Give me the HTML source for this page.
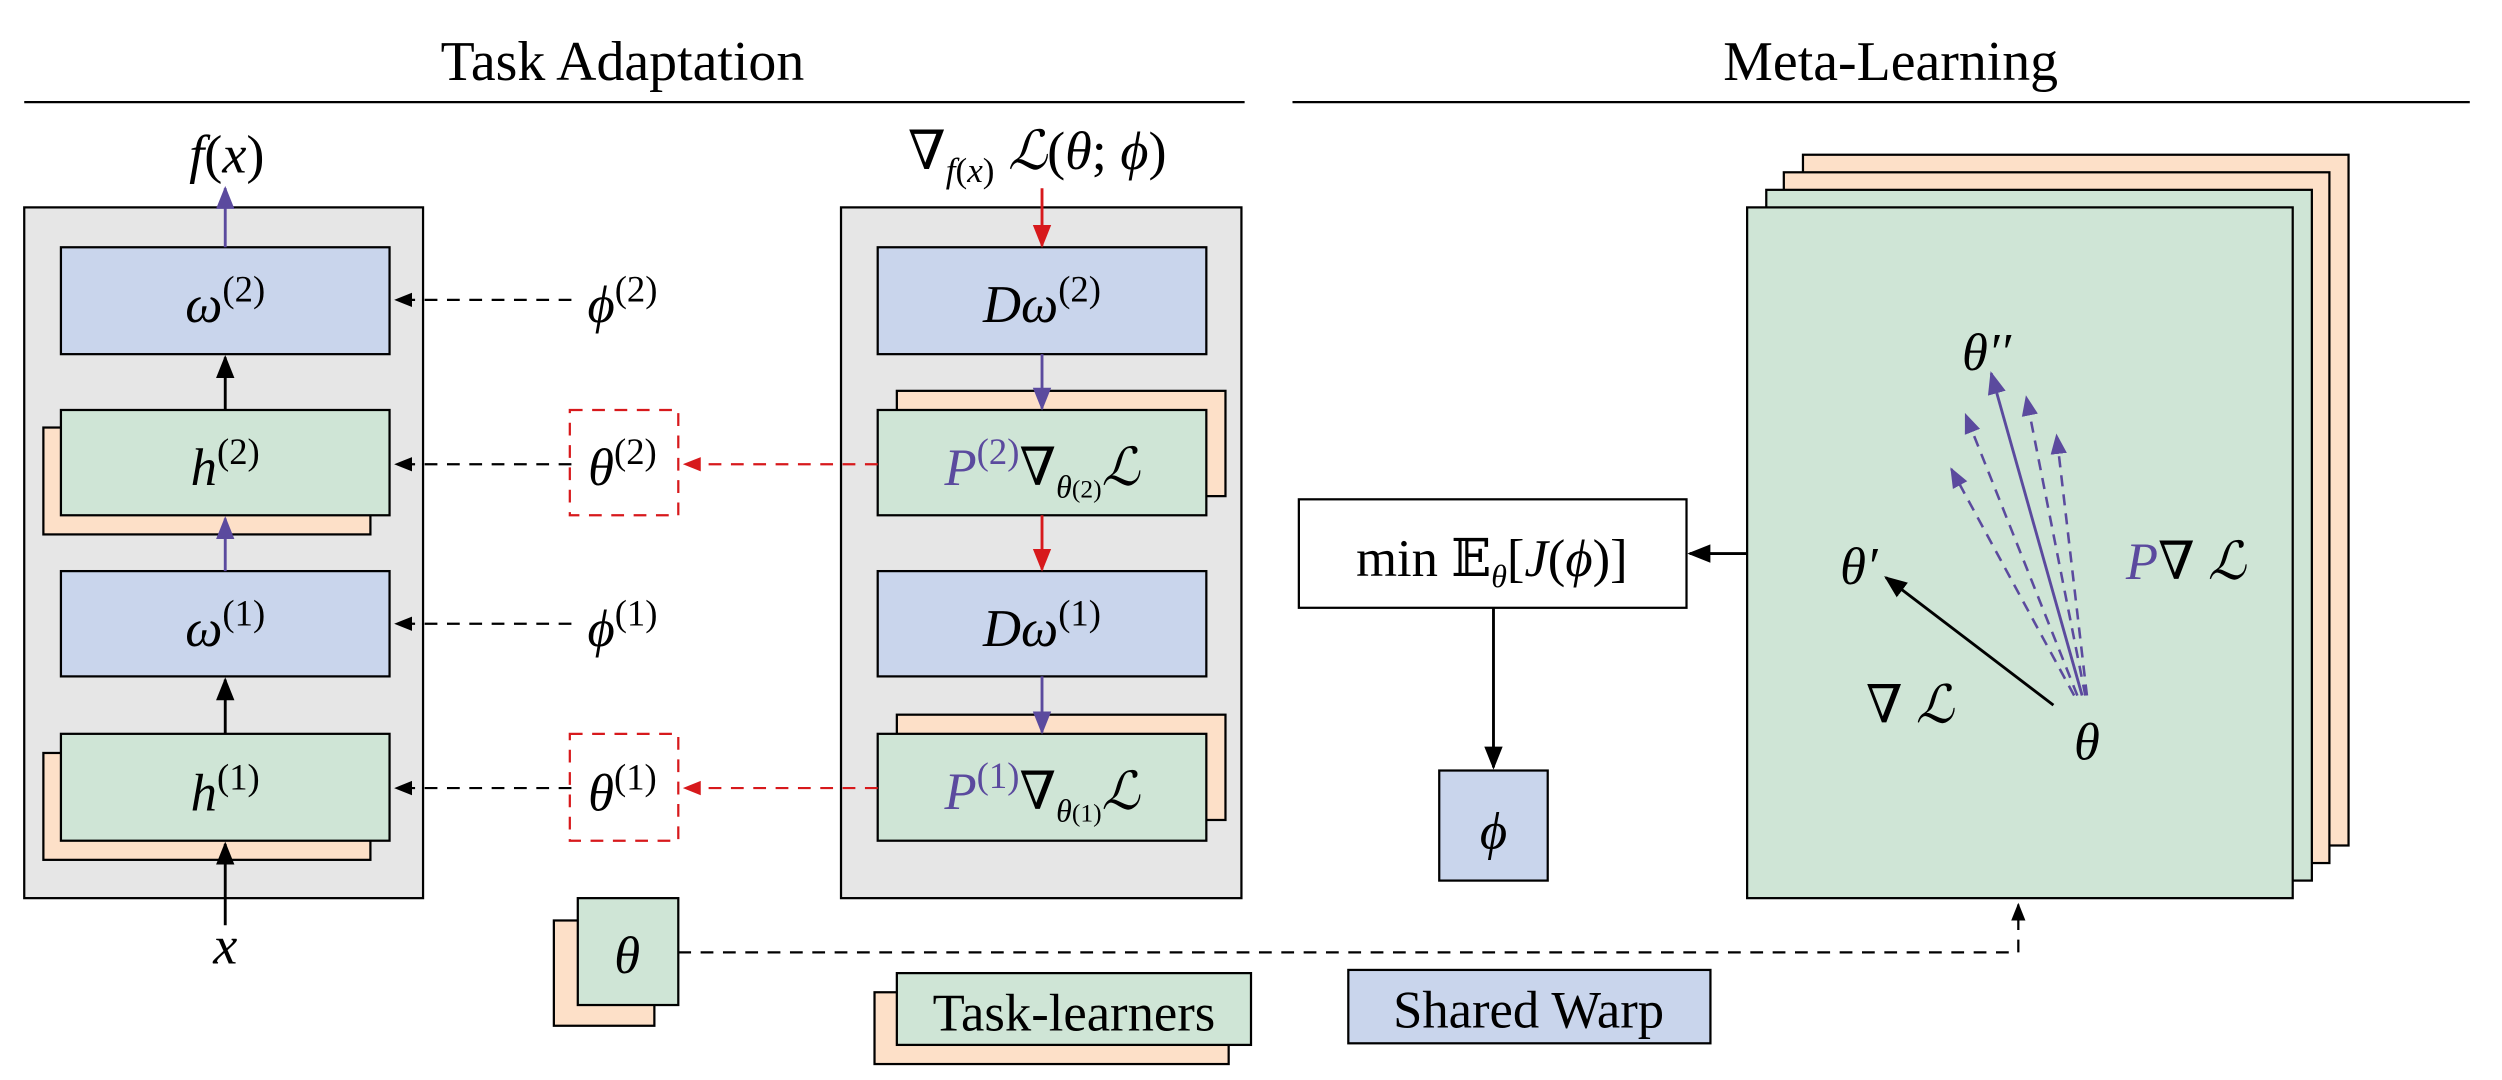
<!DOCTYPE html>
<html><head><meta charset="utf-8"><style>
html,body{margin:0;padding:0;background:#fff;}
svg{display:block;}
text{font-family:"Liberation Serif","DejaVu Serif",serif;fill:#000;}
.i{font-style:italic;}
</style></head><body>
<svg width="2502" height="1080" viewBox="0 0 1568 677" xmlns="http://www.w3.org/2000/svg">
<defs>
<marker id="ak" viewBox="0 0 10 10" refX="9" refY="5" markerWidth="8" markerHeight="8" orient="auto"><path d="M0,1 L10,5 L0,9 z" fill="#000"/></marker>
<marker id="ap" viewBox="0 0 10 10" refX="9" refY="5" markerWidth="8" markerHeight="8" orient="auto"><path d="M0,1 L10,5 L0,9 z" fill="#5b4a9e"/></marker>
<marker id="ar" viewBox="0 0 10 10" refX="9" refY="5" markerWidth="8" markerHeight="8" orient="auto"><path d="M0,1 L10,5 L0,9 z" fill="#d7191c"/></marker>
</defs>
<g stroke="#000" stroke-width="1.4">
<line x1="15" y1="64" x2="780" y2="64"/>
<line x1="810" y1="64" x2="1548" y2="64"/>
<rect x="15" y="130" width="250" height="433" fill="#e6e6e6"/>
<rect x="27" y="268" width="205" height="67" fill="#fde0c8"/>
<rect x="27" y="472" width="205" height="67" fill="#fde0c8"/>
<rect x="38" y="155" width="206" height="67" fill="#c9d5ec"/>
<rect x="38" y="257" width="206" height="66" fill="#cfe5d6"/>
<rect x="38" y="358" width="206" height="66" fill="#c9d5ec"/>
<rect x="38" y="460" width="206" height="67" fill="#cfe5d6"/>
<rect x="527" y="130" width="251" height="433" fill="#e6e6e6"/>
<rect x="562" y="245" width="206" height="66" fill="#fde0c8"/>
<rect x="562" y="448" width="206" height="66" fill="#fde0c8"/>
<rect x="550" y="155" width="206" height="67" fill="#c9d5ec"/>
<rect x="550" y="257" width="206" height="66" fill="#cfe5d6"/>
<rect x="550" y="358" width="206" height="66" fill="#c9d5ec"/>
<rect x="550" y="460" width="206" height="67" fill="#cfe5d6"/>
<rect x="347" y="577" width="63" height="66" fill="#fde0c8"/>
<rect x="362" y="563" width="63" height="67" fill="#cfe5d6"/>
<rect x="548" y="622" width="222" height="45" fill="#fde0c8"/>
<rect x="562" y="610" width="222" height="45" fill="#cfe5d6"/>
<rect x="845" y="608" width="227" height="46" fill="#c9d5ec"/>
<rect x="814" y="313" width="243" height="68" fill="#fff"/>
<rect x="902" y="483" width="68" height="69" fill="#c9d5ec"/>
<rect x="1130" y="97" width="342" height="433" fill="#fde0c8"/>
<rect x="1118" y="108" width="342" height="433" fill="#fde0c8"/>
<rect x="1107" y="119" width="342" height="433" fill="#cfe5d6"/>
<rect x="1095" y="130" width="342" height="433" fill="#cfe5d6"/>
</g>
<g fill="none" stroke="#d7191c" stroke-width="1.4" stroke-dasharray="8,6">
<rect x="357" y="257" width="68" height="66"/>
<rect x="357" y="460" width="68" height="67"/>
<line x1="550" y1="291" x2="429" y2="291" marker-end="url(#ar)"/>
<line x1="550" y1="494" x2="429" y2="494" marker-end="url(#ar)"/>
</g>
<g fill="none" stroke="#000" stroke-width="1.4" stroke-dasharray="8,6">
<line x1="358" y1="188" x2="248" y2="188" marker-end="url(#ak)"/>
<line x1="358" y1="291" x2="248" y2="291" marker-end="url(#ak)"/>
<line x1="358" y1="391" x2="248" y2="391" marker-end="url(#ak)"/>
<line x1="358" y1="494" x2="248" y2="494" marker-end="url(#ak)"/>
<polyline points="425,597 1265,597 1265,567" marker-end="url(#ak)"/>
</g>
<g fill="none" stroke-width="1.8">
<line x1="141" y1="155" x2="141" y2="118" stroke="#5b4a9e" marker-end="url(#ap)"/>
<line x1="141" y1="257" x2="141" y2="224" stroke="#000" marker-end="url(#ak)"/>
<line x1="141" y1="358" x2="141" y2="325" stroke="#5b4a9e" marker-end="url(#ap)"/>
<line x1="141" y1="460" x2="141" y2="426" stroke="#000" marker-end="url(#ak)"/>
<line x1="141" y1="580" x2="141" y2="529" stroke="#000" marker-end="url(#ak)"/>
<line x1="653" y1="118" x2="653" y2="154" stroke="#d7191c" marker-end="url(#ar)"/>
<line x1="653" y1="222" x2="653" y2="256" stroke="#5b4a9e" marker-end="url(#ap)"/>
<line x1="653" y1="323" x2="653" y2="357" stroke="#d7191c" marker-end="url(#ar)"/>
<line x1="653" y1="424" x2="653" y2="459" stroke="#5b4a9e" marker-end="url(#ap)"/>
<line x1="1095" y1="347" x2="1059" y2="347" stroke="#000" marker-end="url(#ak)"/>
<line x1="936" y1="381" x2="936" y2="481" stroke="#000" marker-end="url(#ak)"/>
<line x1="1287" y1="442" x2="1182" y2="362" stroke="#000" marker-end="url(#ak)"/>
<line x1="1305" y1="436" x2="1248" y2="234" stroke="#5b4a9e" marker-end="url(#ap)"/>
</g>
<g fill="none" stroke="#5b4a9e" stroke-width="1.6" stroke-dasharray="7,5">
<line x1="1302" y1="436" x2="1232" y2="260" marker-end="url(#ap)"/>
<line x1="1307" y1="436" x2="1270" y2="249" marker-end="url(#ap)"/>
<line x1="1308" y1="436" x2="1289" y2="273" marker-end="url(#ap)"/>
<line x1="1300" y1="436" x2="1223" y2="294" marker-end="url(#ap)"/>
</g>
<text x="390" y="50" font-size="35" text-anchor="middle">Task Adaptation</text>
<text x="1185" y="50" font-size="35" text-anchor="middle">Meta-Learning</text>
<text x="142" y="108" font-size="34" text-anchor="middle"><tspan class="i">f</tspan>(<tspan class="i">x</tspan>)</text>
<text x="141" y="604" font-size="34" text-anchor="middle" class="i">x</text>
<text x="650" y="106" font-size="34" text-anchor="middle">∇<tspan font-size="22" dy="8" class="i">f</tspan><tspan font-size="22" dy="0">(</tspan><tspan font-size="22" class="i">x</tspan><tspan font-size="22">)</tspan><tspan dy="-8" font-style="italic"> ℒ</tspan>(<tspan class="i">θ</tspan>; <tspan class="i">ϕ</tspan>)</text>
<g font-size="33" text-anchor="middle">
<text x="141" y="202"><tspan class="i">ω</tspan><tspan font-size="23" dy="-13">(2)</tspan></text>
<text x="141" y="304"><tspan class="i">h</tspan><tspan font-size="23" dy="-13">(2)</tspan></text>
<text x="141" y="405"><tspan class="i">ω</tspan><tspan font-size="23" dy="-13">(1)</tspan></text>
<text x="141" y="508"><tspan class="i">h</tspan><tspan font-size="23" dy="-13">(1)</tspan></text>
<text x="653" y="202"><tspan class="i">Dω</tspan><tspan font-size="23" dy="-13">(2)</tspan></text>
<text x="653" y="405"><tspan class="i">Dω</tspan><tspan font-size="23" dy="-13">(1)</tspan></text>
<text x="653" y="304"><tspan class="i" fill="#5b4a9e">P</tspan><tspan font-size="23" dy="-13" fill="#5b4a9e">(2)</tspan><tspan dy="13">∇</tspan><tspan font-size="20" dy="8" class="i">θ</tspan><tspan font-size="16" dy="0">(2)</tspan><tspan dy="-8" class="i">ℒ</tspan></text>
<text x="653" y="507"><tspan class="i" fill="#5b4a9e">P</tspan><tspan font-size="23" dy="-13" fill="#5b4a9e">(1)</tspan><tspan dy="13">∇</tspan><tspan font-size="20" dy="8" class="i">θ</tspan><tspan font-size="16" dy="0">(1)</tspan><tspan dy="-8" class="i">ℒ</tspan></text>
<text x="390" y="202"><tspan class="i">ϕ</tspan><tspan font-size="23" dy="-13">(2)</tspan></text>
<text x="390" y="304"><tspan class="i">θ</tspan><tspan font-size="23" dy="-13">(2)</tspan></text>
<text x="390" y="405"><tspan class="i">ϕ</tspan><tspan font-size="23" dy="-13">(1)</tspan></text>
<text x="390" y="508"><tspan class="i">θ</tspan><tspan font-size="23" dy="-13">(1)</tspan></text>
<text x="393" y="610" class="i">θ</text>
<text x="936" y="532" class="i">ϕ</text>
<text x="935" y="361">min 𝔼<tspan font-size="20" dy="7" class="i">θ</tspan><tspan dy="-7">[</tspan><tspan class="i">J</tspan>(<tspan class="i">ϕ</tspan>)]</text>
<text x="1308" y="476" class="i">θ</text>
<text x="1245" y="232" class="i">θ′′</text>
<text x="1165" y="366" class="i">θ′</text>
<text x="1197" y="453">∇ <tspan class="i">ℒ</tspan></text>
<text x="1370" y="363"><tspan class="i" fill="#5b4a9e">P</tspan>∇ <tspan class="i">ℒ</tspan></text>
</g>
<text x="673" y="646" font-size="33" text-anchor="middle">Task-learners</text>
<text x="958" y="644" font-size="33" text-anchor="middle">Shared Warp</text>
</svg>
</body></html>
